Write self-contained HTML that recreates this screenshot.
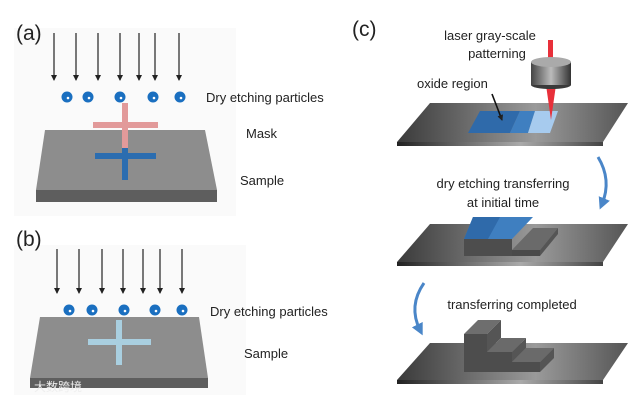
<!DOCTYPE html>
<html><head><meta charset="utf-8"><style>
html,body{margin:0;padding:0;background:#fff;width:644px;height:401px;overflow:hidden}
text{font-family:"Liberation Sans",Arial,sans-serif;fill:#222}
</style></head><body>
<svg width="644" height="401" viewBox="0 0 644 401" xmlns="http://www.w3.org/2000/svg">
<defs>
<marker id="ah" markerWidth="6" markerHeight="6" refX="5" refY="3" orient="auto" markerUnits="userSpaceOnUse"><path d="M0,0 L6,3 L0,6 z" fill="#222"/></marker>
<marker id="bh" markerWidth="12" markerHeight="12" refX="6" refY="6" orient="auto" markerUnits="userSpaceOnUse"><path d="M0,0 L12,6 L0,12 z" fill="#4a86c8"/></marker>
<linearGradient id="pl" x1="0" x2="1" y1="0" y2="0"><stop offset="0" stop-color="#3a3a3a"/><stop offset="0.6" stop-color="#9a9a9a"/><stop offset="1" stop-color="#555"/></linearGradient>
<linearGradient id="pls" x1="0" x2="1"><stop offset="0" stop-color="#222"/><stop offset="0.6" stop-color="#aaa"/><stop offset="1" stop-color="#444"/></linearGradient>
<linearGradient id="cyl" x1="0" x2="1"><stop offset="0" stop-color="#444"/><stop offset="0.5" stop-color="#bbb"/><stop offset="1" stop-color="#333"/></linearGradient>
</defs>
<rect x="14" y="28" width="222" height="188" fill="#fafafa"/>
<rect x="14" y="245" width="232" height="150" fill="#fafafa"/>
<!-- (a) -->
<text x="16" y="40" font-size="21">(a)</text>
<g stroke="#222" stroke-width="1.2" marker-end="url(#ah)">
<line x1="54" y1="33" x2="54" y2="80"/><line x1="76" y1="33" x2="76" y2="80"/><line x1="98" y1="33" x2="98" y2="80"/><line x1="120" y1="33" x2="120" y2="80"/><line x1="139" y1="33" x2="139" y2="80"/><line x1="155" y1="33" x2="155" y2="80"/><line x1="179" y1="33" x2="179" y2="80"/>
</g>
<g fill="#1a6fc0"><circle cx="67" cy="97" r="5.5"/><circle cx="88" cy="97" r="5.5"/><circle cx="120" cy="97" r="5.5"/><circle cx="153" cy="97" r="5.5"/><circle cx="180" cy="97" r="5.5"/></g>
<g fill="#fff"><circle cx="68" cy="98" r="1.3"/><circle cx="89" cy="98" r="1.3"/><circle cx="121" cy="98" r="1.3"/><circle cx="154" cy="98" r="1.3"/><circle cx="181" cy="98" r="1.3"/></g>
<text x="206" y="102" font-size="13">Dry etching particles</text>
<polygon points="45,130 205,130 217,190 36,190" fill="#8d8d8d"/>
<polygon points="36,190 217,190 217,202 36,202" fill="#5e5e5e"/>
<rect x="95" y="153" width="61" height="6" fill="#2b6db0"/><rect x="122" y="140" width="6" height="40" fill="#2b6db0"/>
<rect x="93" y="122" width="65" height="6" fill="#e29a9a"/><rect x="122" y="103" width="6" height="45" fill="#e29a9a"/>
<text x="246" y="138" font-size="13">Mask</text>
<text x="240" y="185" font-size="13">Sample</text>
<!-- (b) -->
<text x="16" y="246" font-size="21">(b)</text>
<g stroke="#222" stroke-width="1.2" marker-end="url(#ah)">
<line x1="57" y1="249" x2="57" y2="293"/><line x1="79" y1="249" x2="79" y2="293"/><line x1="102" y1="249" x2="102" y2="293"/><line x1="123" y1="249" x2="123" y2="293"/><line x1="143" y1="249" x2="143" y2="293"/><line x1="160" y1="249" x2="160" y2="293"/><line x1="182" y1="249" x2="182" y2="293"/>
</g>
<polygon points="40,317 199,317 208,378 30,378" fill="#8d8d8d"/>
<polygon points="30,378 208,378 208,388 30,388" fill="#5e5e5e"/>
<g fill="#1a6fc0"><circle cx="69" cy="310" r="5.5"/><circle cx="92" cy="310" r="5.5"/><circle cx="124" cy="310" r="5.5"/><circle cx="155" cy="310" r="5.5"/><circle cx="182" cy="310" r="5.5"/></g>
<g fill="#fff"><circle cx="70" cy="311" r="1.3"/><circle cx="93" cy="311" r="1.3"/><circle cx="125" cy="311" r="1.3"/><circle cx="156" cy="311" r="1.3"/><circle cx="183" cy="311" r="1.3"/></g>
<rect x="88" y="339" width="63" height="6" fill="#a9cfe0"/><rect x="116" y="320" width="6" height="45" fill="#a9cfe0"/>
<text x="210" y="316" font-size="13">Dry etching particles</text>
<text x="244" y="358" font-size="13">Sample</text>
<text x="34" y="391" font-size="12" style="fill:#eee;font-family:'Liberation Sans','Noto Sans CJK SC',sans-serif">大数跨境</text>
<!-- (c) -->
<text x="352" y="36" font-size="21">(c)</text>
<!-- plate 1 -->
<polygon points="430,103 628,103 603,142 397,142" fill="url(#pl)"/>
<polygon points="397,142 603,142 603,146 397,146" fill="url(#pls)"/>
<polygon points="480,111 520,111 510,133 468,133" fill="#2f6aaa"/>
<polygon points="520,111 535,111 528,133 510,133" fill="#3f7fc0"/>
<polygon points="535,111 558,111 550,133 528,133" fill="#a7cbee"/>
<rect x="548" y="40" width="5" height="20" fill="#e8303a"/>
<polygon points="546,85 556,85 551,120" fill="#e8303a"/>
<rect x="531" y="62" width="40" height="23" fill="url(#cyl)"/>
<ellipse cx="551" cy="85" rx="20" ry="4" fill="#3a3a3a"/>
<rect x="531" y="62" width="40" height="23" fill="url(#cyl)"/>
<ellipse cx="551" cy="62" rx="20" ry="5" fill="#aaa"/>
<text x="490" y="40" font-size="13" text-anchor="middle">laser gray-scale</text>
<text x="497" y="58" font-size="13" text-anchor="middle">patterning</text>
<text x="417" y="88" font-size="13">oxide region</text>
<line x1="492" y1="94" x2="502" y2="120" stroke="#111" stroke-width="1.6" marker-end="url(#ah)"/>
<path d="M598,157 Q612,180 602,204" fill="none" stroke="#4a86c8" stroke-width="3" marker-end="url(#bh)"/>
<text x="503" y="188" font-size="13" text-anchor="middle">dry etching transferring</text>
<text x="503" y="207" font-size="13" text-anchor="middle">at initial time</text>
<!-- plate 2 -->
<polygon points="430,224 628,224 603,262 397,262" fill="url(#pl)"/>
<polygon points="397,262 603,262 603,266 397,266" fill="url(#pls)"/>
<polygon points="533,228 558,228 540,250 512,250" fill="#6a6a6a"/>
<polygon points="512,250 540,250 540,256 512,256" fill="#4a4a4a"/>
<polygon points="558,228 558,234 540,256 540,250" fill="#555"/>
<polygon points="473,217 533,217 512,239 464,239" fill="#3f7fc0"/>
<polygon points="473,217 500,217 488,239 464,239" fill="#2f6aaa"/>
<rect x="464" y="239" width="48" height="17" fill="#4d4d4d"/>
<path d="M424,283 Q408,306 420,330" fill="none" stroke="#4a86c8" stroke-width="3" marker-end="url(#bh)"/>
<text x="512" y="309" font-size="13" text-anchor="middle">transferring completed</text>
<!-- plate 3 -->
<polygon points="430,343 628,343 603,380 397,380" fill="url(#pl)"/>
<polygon points="397,380 603,380 603,384 397,384" fill="url(#pls)"/>
<!-- low step -->
<polygon points="512,362 540,362 554,348 526,348" fill="#6a6a6a"/>
<polygon points="540,362 554,348 554,358 540,372" fill="#555"/>
<rect x="512" y="362" width="28" height="10" fill="#4d4d4d"/>
<!-- middle step -->
<polygon points="487,352 512,352 526,338 501,338" fill="#6a6a6a"/>
<polygon points="512,352 526,338 526,348 512,362" fill="#555"/>
<rect x="487" y="352" width="25" height="20" fill="#4d4d4d"/>
<!-- tall block -->
<polygon points="464,334 487,334 501,320 478,320" fill="#6e6e6e"/>
<polygon points="487,334 501,320 501,338 487,352" fill="#555"/>
<rect x="464" y="334" width="23" height="38" fill="#4d4d4d"/>
</svg>
</body></html>
